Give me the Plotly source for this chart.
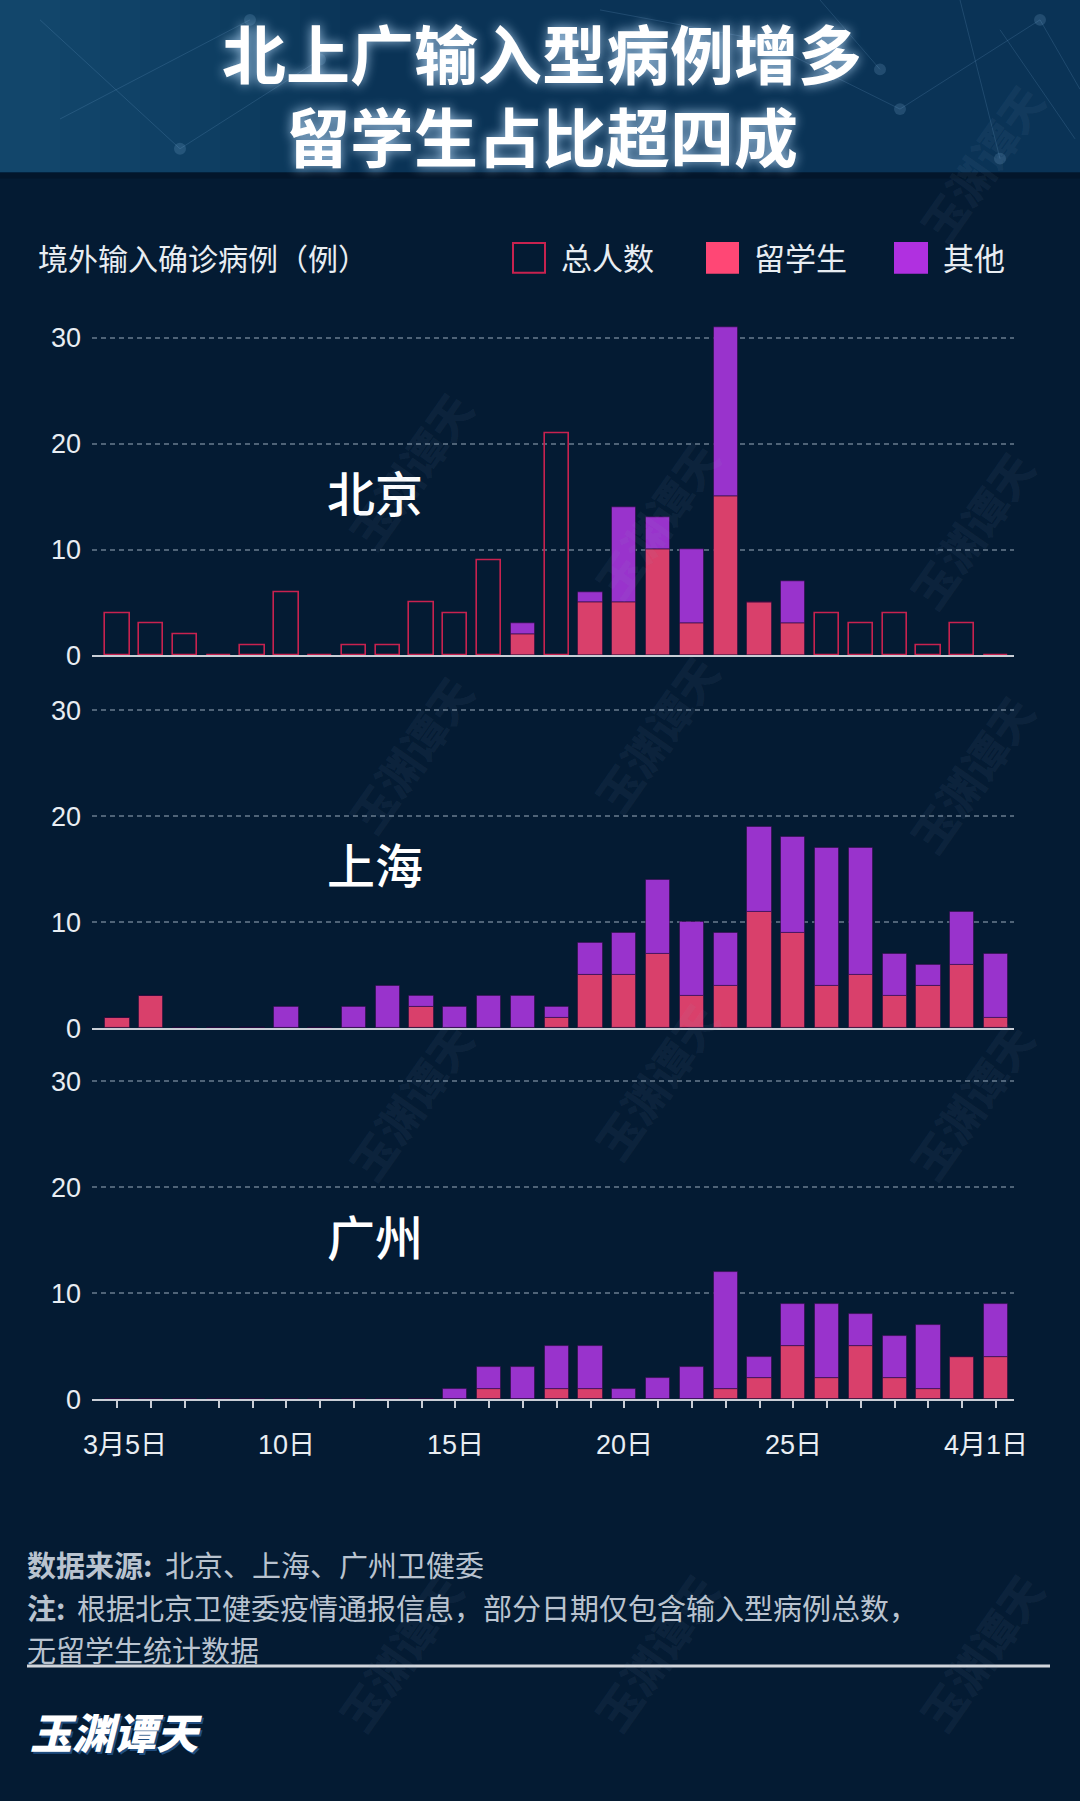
import plotly.graph_objects as go

# ---------------- data ----------------
day_idx = list(range(27))
tick_idx = [0, 5, 10, 15, 20, 26]
tick_text = ["3月5日", "10日", "15日", "20日", "25日", "4月1日"]

bj_total = [4, 3, 2, 0, 1, 6, 0, 1, 1, 5, 4, 9, 3, 21, 6, 14, 13, 10, 31, 5, 7, 4, 3, 4, 1, 3, 0]
bj_student = [None] * 12 + [2, None, 5, 5, 10, 3, 15, 5, 3] + [None] * 6
bj_other = [None] * 12 + [1, None, 1, 9, 3, 7, 16, 0, 4] + [None] * 6

sh_student = [1, 3, 0, 0, 0, 0, 0, 0, 0, 2, 0, 0, 0, 1, 5, 5, 7, 3, 4, 11, 9, 4, 5, 3, 4, 6, 1]
sh_other = [0, 0, 0, 0, 0, 2, 0, 2, 4, 1, 2, 3, 3, 1, 3, 4, 7, 7, 5, 8, 9, 13, 12, 4, 2, 5, 6]

gz_student = [0] * 10 + [0, 1, 0, 1, 1, 0, 0, 0, 1, 2, 5, 2, 5, 2, 1, 4, 4]
gz_other = [0] * 10 + [1, 2, 3, 4, 4, 1, 2, 3, 11, 2, 4, 7, 3, 4, 6, 0, 5]

cities = ["北京", "上海", "广州"]
legend_names = ["总人数", "留学生", "其他"]
title_lines = ["北上广输入型病例增多", "留学生占比超四成"]
footer_bold = ["数据来源:", "注:", ""]
footer_text = ["北京、上海、广州卫健委",
               "根据北京卫健委疫情通报信息，部分日期仅包含输入型病例总数，",
               "无留学生统计数据"]

# ---------------- style ----------------
W, H = 1080, 1801
BG = "#041b33"
BANNER = "#0a3356"
PINK = "#d9406b"
PURPLE = "#9933cc"
OUTLINE = "#c8224f"
LEG_PINK = "#ff4775"
LEG_PURPLE = "#b030e0"
GRID = "#4f6377"
AXIS = "#c9ced6"
TXT = "#e8edf2"
FOOT = "#b9c3cf"
NUM = "Liberation Sans, Noto Sans CJK SC, sans-serif"
CJK = "Noto Sans CJK SC, sans-serif"


def px(x):
    return x / W


def py(y):
    return 1 - y / H


fig = go.Figure()

zero_px = [661, 1036.7, 1411]
ymax = 32
panel_h = 342
x_dom = [px(92), px(1014)]
bw = 0.72
edge = dict(color="rgba(40,10,60,0.55)", width=1)

series = [
    (bj_student, bj_other, bj_total),
    (sh_student, sh_other, None),
    (gz_student, gz_other, None),
]

for i, (stu, oth, tot) in enumerate(series):
    n = "" if i == 0 else str(i + 1)
    xa, ya = "x" + n, "y" + n
    base = [s if s is not None else 0 for s in stu]
    fig.add_trace(go.Bar(x=day_idx, y=stu, width=bw, marker=dict(color=PINK, line=edge),
                         xaxis=xa, yaxis=ya, name=legend_names[1], showlegend=False))
    fig.add_trace(go.Bar(x=day_idx, y=oth, base=base, width=bw, marker=dict(color=PURPLE, line=edge),
                         xaxis=xa, yaxis=ya, name=legend_names[2], showlegend=False))
    if tot is not None:
        only_total = [t if s is None else None for t, s in zip(tot, stu)]
        fig.add_trace(go.Bar(x=day_idx, y=only_total, width=bw,
                             marker=dict(color="rgba(0,0,0,0)", line=dict(color=OUTLINE, width=1.6)),
                             xaxis=xa, yaxis=ya, name=legend_names[0], showlegend=False))

    z = zero_px[i]
    last = i == 2
    fig.layout["xaxis" + n] = dict(
        domain=x_dom, range=[-0.75, 26.53], anchor=ya, showgrid=False, zeroline=False,
        showline=True, linecolor=AXIS, linewidth=2,
        ticks="outside" if last else "", tickvals=day_idx, ticklen=7, tickwidth=1.5,
        tickcolor=AXIS, showticklabels=False, fixedrange=True,
    )
    fig.layout["yaxis" + n] = dict(
        domain=[py(z), py(z - panel_h)], range=[0, ymax], anchor=xa,
        tickvals=[0, 10, 20, 30], showgrid=True, gridcolor=GRID, gridwidth=1.5,
        griddash="5px,4px", zeroline=False, showline=False, ticks="",
        tickfont=dict(family=NUM, size=27, color=TXT), ticklabelstandoff=10,
    )
    fig.add_annotation(x=px(375), y=py(z - 166), xref="paper", yref="paper",
                       text=cities[i], showarrow=False, xanchor="center", yanchor="middle",
                       font=dict(family=CJK, size=48, color="#ffffff", weight=500))

# x tick labels (bottom panel)
for k, (ti, tt) in enumerate(zip(tick_idx, tick_text)):
    shift = 8 if k == 0 else (-10 if k == len(tick_idx) - 1 else 0)
    fig.add_annotation(x=ti, y=py(1457), xref="x3", yref="paper", text=tt, showarrow=False,
                       xanchor="center", yanchor="middle", xshift=shift,
                       font=dict(family=NUM, size=27, color=TXT))

shapes = []
# banner with soft lighter glow on the left
shapes.append(dict(type="rect", xref="paper", yref="paper", x0=0, x1=1, y0=py(174), y1=1,
                   fillcolor=BANNER, line=dict(width=0), layer="below"))
for k in range(8):
    shapes.append(dict(type="rect", xref="paper", yref="paper", x0=0, x1=px(60 + 40 * k),
                       y0=py(174), y1=1, fillcolor="rgba(40,110,150,0.05)",
                       line=dict(width=0), layer="below"))
# faint network lines in banner
net = [(40, 20, 180, 150), (180, 150, 320, 60), (600, 10, 760, 40), (760, 40, 900, 110),
       (900, 110, 1040, 20), (1040, 20, 1080, 90), (960, 0, 1000, 160), (820, 0, 880, 70),
       (60, 120, 250, 20), (1000, 30, 1075, 140)]
for (a, b, c, d) in net:
    shapes.append(dict(type="line", xref="paper", yref="paper", x0=px(a), y0=py(b), x1=px(c), y1=py(d),
                       line=dict(color="rgba(130,180,220,0.18)", width=1), layer="below"))
for (a, b) in [(180, 150), (320, 60), (760, 40), (900, 110), (1040, 20), (880, 70), (250, 20), (1000, 160)]:
    shapes.append(dict(type="circle", xref="paper", yref="paper", x0=px(a - 6), x1=px(a + 6),
                       y0=py(b + 6), y1=py(b - 6), fillcolor="rgba(130,180,220,0.2)",
                       line=dict(width=0), layer="below"))
shapes.append(dict(type="rect", xref="paper", yref="paper", x0=0, x1=1, y0=py(180), y1=py(174),
                   fillcolor="#03162b", line=dict(width=0), layer="below"))

# legend symbols
shapes.append(dict(type="rect", xref="paper", yref="paper", x0=px(513), x1=px(545), y0=py(275), y1=py(245),
                   fillcolor="rgba(0,0,0,0)", line=dict(color=OUTLINE, width=2)))
shapes.append(dict(type="rect", xref="paper", yref="paper", x0=px(706), x1=px(739), y0=py(276), y1=py(244),
                   fillcolor=LEG_PINK, line=dict(width=0)))
shapes.append(dict(type="rect", xref="paper", yref="paper", x0=px(894), x1=px(928), y0=py(276), y1=py(244),
                   fillcolor=LEG_PURPLE, line=dict(width=0)))
# footer rule
shapes.append(dict(type="line", xref="paper", yref="paper", x0=px(27), x1=px(1050), y0=py(1680), y1=py(1680),
                   line=dict(color="#d2d6dc", width=3)))

annotations = []
# watermarks (kept clear of other texts)
for (wx, wy) in [(1060, 70), (410, 380), (735, 430), (1050, 440),
                 (410, 760), (735, 740), (1050, 780),
                 (410, 1110), (735, 1090), (1050, 1110),
                 (400, 1760), (735, 1760), (1060, 1760)]:
    annotations.append(dict(x=px(wx), y=py(wy), xref="paper", yref="paper", text="玉渊谭天",
                            showarrow=False, textangle=-55,
                            font=dict(family=CJK, size=44, color="rgba(140,170,200,0.07)", weight=900)))
# title (two lines in one text block)
annotations.append(dict(x=px(542), y=py(93), xref="paper", yref="paper", text="<br>".join(title_lines),
                        showarrow=False, xanchor="center", yanchor="middle", align="center",
                        font=dict(family=CJK, size=64, color="#ffffff", weight=700,
                                  shadow="0px 0px 12px rgba(190,225,255,0.85)")))
# legend row
annotations.append(dict(x=px(36), y=py(259), xref="paper", yref="paper", text="境外输入确诊病例（例）",
                        showarrow=False, xanchor="left", yanchor="middle",
                        font=dict(family=CJK, size=30, color=TXT)))
for lx, name in zip([559, 752, 941], legend_names):
    annotations.append(dict(x=px(lx), y=py(259), xref="paper", yref="paper", text=name,
                            showarrow=False, xanchor="left", yanchor="middle",
                            font=dict(family=CJK, size=31, color=TXT)))
# footer: bold labels and plain text as separate pieces
for fy, fb, ft, tx in zip([1577, 1620, 1663], footer_bold, footer_text, [164, 76, 26]):
    if fb:
        annotations.append(dict(x=px(26), y=py(fy), xref="paper", yref="paper", text=fb,
                                showarrow=False, xanchor="left", yanchor="middle", borderpad=0,
                                font=dict(family=CJK, size=29, color=FOOT, weight=700)))
    annotations.append(dict(x=px(tx), y=py(fy), xref="paper", yref="paper", text=ft,
                            showarrow=False, xanchor="left", yanchor="middle", borderpad=0,
                            font=dict(family=CJK, size=29, color=FOOT)))
# logo
annotations.append(dict(x=px(28), y=py(1745), xref="paper", yref="paper", text="<i>玉渊谭天</i>",
                        showarrow=False, xanchor="left", yanchor="middle",
                        font=dict(family=CJK, size=42, color="#ffffff", weight=900,
                                  shadow="2px 2px 0px #1f4d80")))

for a in annotations:
    fig.add_annotation(**a)

fig.update_layout(
    width=W, height=H, margin=dict(l=0, r=0, t=0, b=0),
    paper_bgcolor=BG, plot_bgcolor="rgba(0,0,0,0)",
    barmode="overlay", bargap=0, showlegend=False, shapes=shapes,
    font=dict(family=CJK, color=TXT),
)

fig.write_html("out.html", config={"displayModeBar": False})
